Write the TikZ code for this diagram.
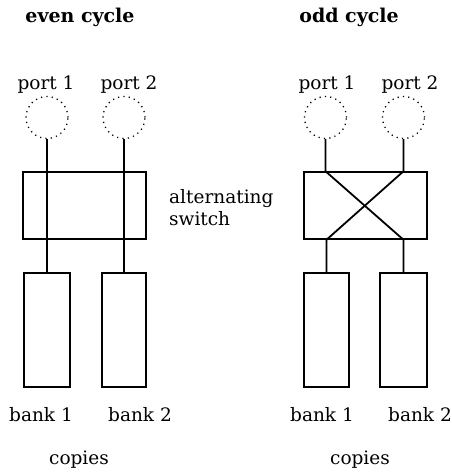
\documentclass[tikz,border=0pt]{standalone}
\usepackage{fontspec}
\setmainfont{DejaVu Serif}
\begin{document}
\begin{tikzpicture}[x=1pt,y=-1pt,
  lbl/.style={inner sep=0pt,font=\fontsize{18.5}{22}\selectfont},
  ttl/.style={inner sep=0pt,font=\fontsize{19}{23}\selectfont\bfseries},
  port/.style={draw,circle,line width=1.3pt,dash pattern=on 1.2pt off 4.2pt,minimum size=42pt,inner sep=0pt},
  sw/.style={draw,rectangle,line width=1.5pt,minimum width=123pt,minimum height=67pt,inner sep=0pt},
  bank/.style={draw,rectangle,line width=1.5pt,minimum height=114pt,inner sep=0pt},
  wire/.style={line width=1.8pt}]
\useasboundingbox (0,0) rectangle (452,474);
% left panel
\node[ttl] (t1) at (80,17) {even cycle};
\node[lbl] (lp1) at (46,85) {port 1};
\node[lbl] (lp2) at (129,85) {port 2};
\node[port] (lc1) at (47,117.5) {};
\node[port] (lc2) at (124,117.5) {};
\node[sw] (ls) at (84.5,205.5) {};
\node[bank,minimum width=46.2pt] (lb1) at (47,330) {};
\node[bank,minimum width=44pt] (lb2) at (124,330) {};
\draw[wire] (lc1.south) -- (lb1.north);
\draw[wire] (lc2.south) -- (lb2.north);
\node[lbl,align=left,anchor=west] (alt) at (169,208) {alternating\\switch};
\node[lbl] (lbl1) at (41,415) {bank 1};
\node[lbl] (lbl2) at (140,415) {bank 2};
\node[lbl] (lcp) at (79,460) {copies};
% right panel
\node[ttl] (t2) at (349,17) {odd cycle};
\node[lbl] (rp1) at (327,85) {port 1};
\node[lbl] (rp2) at (410,85) {port 2};
\node[port] (rc1) at (325.5,117.5) {};
\node[port] (rc2) at (403.5,117.5) {};
\node[sw] (rs) at (365.5,205.5) {};
\node[bank,minimum width=45pt] (rb1) at (326.5,330) {};
\node[bank,minimum width=47pt] (rb2) at (403.5,330) {};
\coordinate (a1) at (rc1.south |- rs.north);
\coordinate (a2) at (rc2.south |- rs.north);
\coordinate (b1) at (rb1.north |- rs.south);
\coordinate (b2) at (rb2.north |- rs.south);
\draw[wire] (rc1.south) -- (a1) -- (b2) -- (rb2.north);
\draw[wire] (rc2.south) -- (a2) -- (b1) -- (rb1.north);
\node[lbl] (rbl1) at (322,415) {bank 1};
\node[lbl] (rbl2) at (420,415) {bank 2};
\node[lbl] (rcp) at (360,460) {copies};
\end{tikzpicture}
\end{document}
